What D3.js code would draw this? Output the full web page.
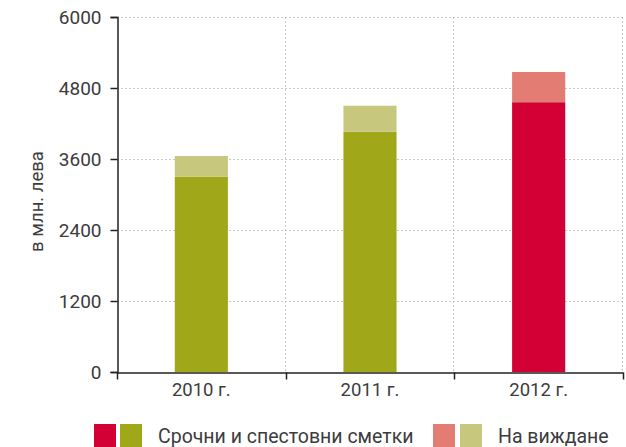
<!DOCTYPE html>
<html>
<head>
<meta charset="utf-8">
<script src="https://cdn.jsdelivr.net/npm/d3@7/dist/d3.min.js"></script>
<style>
  html, body { margin: 0; padding: 0; background: #fff; }
  svg { display: block; font-family: Roboto, "Liberation Sans", sans-serif; }
</style>
</head>
<body>
<svg id="chart" width="626" height="447"></svg>
<script>
// Deposits by type, million leva
const years = ["2010 г.", "2011 г.", "2012 г."];
const termSavings = [3300, 4060, 4560];   // Срочни и спестовни сметки
const onDemand = [350, 440, 510];         // На виждане
const yTicks = [0, 1200, 2400, 3600, 4800, 6000];
const darkColors = ["#a0a819", "#a0a819", "#d20034"];
const lightColors = ["#c8c77e", "#c8c77e", "#e37c72"];
const legendLabels = ["Срочни и спестовни сметки", "На виждане"];

const svg = d3.select("#chart");
const m = { left: 117, right: 3, top: 17, bottom: 75 };
const W = 626, H = 447;
const x0 = m.left, x1 = W - m.right, y0 = H - m.bottom, y1 = m.top;
const txt = "#3c3c3c";
const fw = 400;

const x = d3.scaleBand().domain(years).range([x0, x1]).paddingInner(0).paddingOuter(0);
const y = d3.scaleLinear().domain([0, 6000]).range([y0, y1]);
const barW = x.bandwidth() * 0.315;

// grid
const grid = svg.append("g").attr("stroke", "#c8c8c8").attr("stroke-width", 1).attr("stroke-dasharray", "2,2");
yTicks.filter(t => t > 0).forEach(t => {
  grid.append("line").attr("x1", x0).attr("x2", x1).attr("y1", Math.round(y(t)) + 0.5).attr("y2", Math.round(y(t)) + 0.5);
});
years.forEach(yr => {
  const xe = Math.round(x(yr) + x.bandwidth()) - 0.5;
  grid.append("line").attr("x1", xe).attr("x2", xe).attr("y1", y1).attr("y2", y0);
});

// stacked bars
const stackData = years.map((yr, i) => ({ yr, a: termSavings[i], b: onDemand[i], i }));
const bars = svg.append("g");
bars.selectAll("rect.a").data(stackData).join("rect").attr("class", "a")
  .attr("x", d => x(d.yr) + (x.bandwidth() - barW) / 2).attr("width", barW)
  .attr("y", d => y(d.a)).attr("height", d => y(0) - y(d.a))
  .attr("fill", d => darkColors[d.i]);
bars.selectAll("rect.b").data(stackData).join("rect").attr("class", "b")
  .attr("x", d => x(d.yr) + (x.bandwidth() - barW) / 2).attr("width", barW)
  .attr("y", d => y(d.a + d.b)).attr("height", d => y(d.a) - y(d.a + d.b))
  .attr("fill", d => lightColors[d.i]);

// y axis
const yAxis = svg.append("g").attr("transform", `translate(${x0 + 0.5},0)`)
  .call(d3.axisLeft(y).tickValues(yTicks).tickSize(7).tickPadding(9).tickFormat(d3.format("d")));
yAxis.select(".domain").attr("stroke", "#222").attr("stroke-width", 1.5);
yAxis.selectAll(".tick line").attr("stroke", "#222").attr("stroke-width", 1.5);
yAxis.selectAll(".tick text").attr("font-size", 19).attr("fill", txt).attr("font-family", "Roboto").attr("font-weight", fw);

// x axis
const xAxis = svg.append("g").attr("transform", `translate(0,${y0 + 0.5})`)
  .call(d3.axisBottom(x).tickSize(0).tickPadding(10));
xAxis.select(".domain").attr("stroke", "#222").attr("stroke-width", 1.5);
xAxis.selectAll(".tick text").attr("font-size", 18.5).attr("fill", txt).attr("font-family", "Roboto").attr("font-weight", fw);
// band boundary ticks
const bounds = [x0].concat(years.map(yr => x(yr) + x.bandwidth()));
xAxis.selectAll("line.sep").data(bounds).join("line").attr("class", "sep")
  .attr("x1", d => Math.round(d) + 0.5).attr("x2", d => Math.round(d) + 0.5)
  .attr("y1", 0).attr("y2", 7).attr("stroke", "#222").attr("stroke-width", 1.5);

// y title
svg.append("text").attr("transform", `translate(43,${(y0 + y1) / 2 + 7}) rotate(-90)`)
  .attr("text-anchor", "middle").attr("font-size", 18.5).attr("fill", txt).attr("font-weight", fw)
  .text("в млн. лева");

// legend
const lg = svg.append("g");
const sq = 22;
[[94, darkColors[2]], [120, darkColors[0]], [433, lightColors[2]], [460, lightColors[0]]].forEach(([lx, c]) => {
  lg.append("rect").attr("x", lx).attr("y", 424).attr("width", sq).attr("height", 23).attr("fill", c);
});
lg.append("text").attr("x", 158).attr("y", 443).attr("font-size", 19.5).attr("fill", txt).attr("font-weight", fw).text(legendLabels[0]);
lg.append("text").attr("x", 498).attr("y", 443).attr("font-size", 19.5).attr("fill", txt).attr("font-weight", fw).text(legendLabels[1]);
</script>
</body>
</html>
